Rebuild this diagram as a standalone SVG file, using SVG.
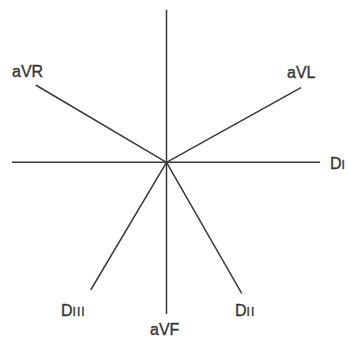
<svg xmlns="http://www.w3.org/2000/svg" width="348" height="342" viewBox="0 0 348 342">
<style>
.ax{stroke:#3a3a3a;stroke-width:1.5;fill:none;stroke-linecap:butt}
.lb{font-family:"Liberation Sans",Arial,sans-serif;font-size:16px;fill:#3a3530;stroke:#3a3530;stroke-width:0.35}
.sub{font-size:12px;letter-spacing:1px}
</style>
<rect width="348" height="342" fill="#ffffff"/>
<g id="connectors">
<line class="ax" x1="166.5" y1="10" x2="166.5" y2="314"/>
<line class="ax" x1="12" y1="162.3" x2="320" y2="162.3"/>
<line class="ax" x1="35.7" y1="85" x2="166.5" y2="162.3"/>
<line class="ax" x1="301" y1="87.7" x2="166.5" y2="162.3"/>
<line class="ax" x1="90.7" y1="290" x2="166.5" y2="162.3"/>
<line class="ax" x1="241.7" y1="293.3" x2="166.5" y2="162.3"/>
</g>
<g id="aVR"><text class="lb" x="12" y="77">aVR</text></g>
<g id="aVL"><text class="lb" x="287" y="78">aVL</text></g>
<g id="DI"><text class="lb" x="330" y="169">D<tspan class="sub" letter-spacing="0">I</tspan></text></g>
<g id="DIII"><text class="lb" x="61" y="316">D<tspan class="sub">III</tspan></text></g>
<g id="DII"><text class="lb" x="235" y="316">D<tspan class="sub">II</tspan></text></g>
<g id="aVF"><text class="lb" x="150" y="335">aVF</text></g>
</svg>
